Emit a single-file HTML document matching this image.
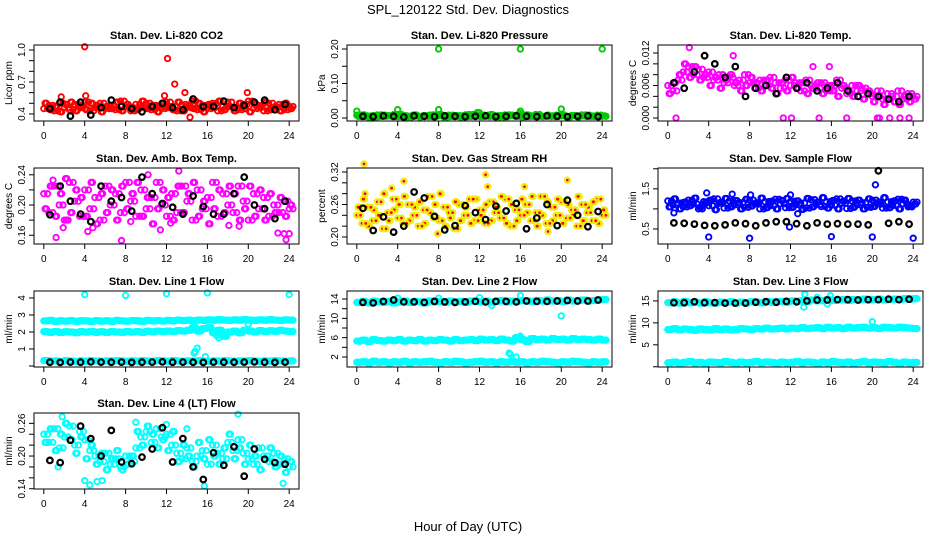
<!DOCTYPE html>
<html><head><meta charset="utf-8"><style>
body{margin:0;background:#fff;}
svg{display:block;font-family:"Liberation Sans",sans-serif;}
</style></head><body>
<svg id="chart" width="936" height="540" viewBox="0 0 936 540">
<rect width="936" height="540" fill="#fff"/>
<text x="468" y="14" text-anchor="middle" font-size="13">SPL_120122  Std. Dev. Diagnostics</text>
<text x="468" y="531" text-anchor="middle" font-size="13">Hour of Day (UTC)</text>
</svg>
<script>
// ---------- data ----------
const hourTicks = [0,4,8,12,16,20,24];
// CO2
const co2A = [0.45,0.48,0.43,0.50,0.46,0.44,0.49,0.47,0.51,0.43,0.46,0.50,0.45,0.48,0.44,0.52,0.47,0.43,0.49,0.46,0.50,0.44,0.48,0.45,0.51,0.47,0.43,0.49,0.46,0.52,0.44,0.48,0.45,0.50,0.43,0.47,0.51,0.46,0.44,0.49,0.52,0.45,0.48,0.43,0.50,0.46,0.49,0.44,0.47];
const co2B = [0.50,0.44,0.47,0.42,0.49,0.51,0.43,0.46,0.44,0.50,0.48,0.42,0.47,0.45,0.51,0.43,0.49,0.46,0.44,0.52,0.45,0.48,0.42,0.50,0.46,0.44,0.51,0.43,0.48,0.45,0.50,0.42,0.49,0.46,0.52,0.44,0.47,0.43,0.50,0.45,0.42,0.49,0.46,0.51,0.44,0.47,0.43,0.50,0.45];
const co2OutX = [4,12.1,12.8,13.8,19.9,14.3,1.7,4.1,11.8];
const co2OutY = [1.03,0.92,0.68,0.60,0.60,0.37,0.56,0.57,0.57];
const co2Black = [0.45,0.51,0.38,0.51,0.39,0.46,0.53,0.47,0.45,0.42,0.47,0.50,0.46,0.44,0.54,0.47,0.47,0.52,0.46,0.48,0.51,0.53,0.44,0.49];
// Pressure
const prA = [0.008,0.004,0.006,0.003,0.009,0.005,0.007,0.004,0.010,0.006,0.003,0.008,0.005,0.007,0.004,0.009,0.006,0.003,0.008,0.005,0.007,0.004,0.010,0.006,0.005,0.008,0.004,0.007,0.003,0.009,0.006,0.005,0.008,0.004,0.007,0.010,0.005,0.006,0.004,0.008,0.006,0.003,0.007,0.005,0.009,0.004,0.006,0.008,0.005];
const prB = [0.005,0.009,0.003,0.007,0.004,0.008,0.006,0.010,0.004,0.007,0.005,0.009,0.003,0.006,0.008,0.004,0.010,0.006,0.005,0.007,0.003,0.009,0.005,0.008,0.004,0.006,0.010,0.005,0.007,0.004,0.008,0.006,0.003,0.009,0.005,0.007,0.004,0.008,0.006,0.005,0.009,0.004,0.007,0.003,0.006,0.008,0.005,0.004,0.006];
const prOutX = [8,16,24,0,4,8,12,16,20,11.8,15.9];
const prOutY = [0.200,0.200,0.200,0.020,0.024,0.024,0.015,0.020,0.026,0.016,0.014];
const prBlack = [0.005,0.004,0.006,0.005,0.003,0.006,0.005,0.004,0.006,0.005,0.004,0.005,0.006,0.004,0.005,0.006,0.005,0.004,0.006,0.005,0.004,0.005,0.006,0.004];
// Li-820 temp
const tmA = [0.0060,0.0050,0.0070,0.0085,0.0095,0.0080,0.0090,0.0075,0.0085,0.0070,0.0080,0.0065,0.0075,0.0060,0.0070,0.0080,0.0065,0.0055,0.0070,0.0060,0.0075,0.0065,0.0055,0.0070,0.0060,0.0065,0.0050,0.0070,0.0060,0.0055,0.0065,0.0050,0.0060,0.0070,0.0055,0.0045,0.0060,0.0050,0.0055,0.0045,0.0040,0.0050,0.0035,0.0045,0.0040,0.0050,0.0035,0.0045,0.0040];
const tmB = [0.0045,0.0065,0.0080,0.0100,0.0075,0.0095,0.0070,0.0080,0.0060,0.0075,0.0055,0.0070,0.0080,0.0065,0.0050,0.0060,0.0075,0.0065,0.0050,0.0070,0.0055,0.0045,0.0065,0.0050,0.0075,0.0055,0.0065,0.0045,0.0055,0.0065,0.0045,0.0060,0.0050,0.0040,0.0060,0.0050,0.0040,0.0060,0.0035,0.0050,0.0030,0.0040,0.0025,0.0035,0.0030,0.0025,0.0040,0.0030,0.0035];
const tmOutX = [0.8,11.3,12.1,14.8,17.5,20.5,20.7,21.7,22.7,23.6,2.1,6.4,14.2,15.8];
const tmOutY = [0,0,0,0,0,0,0,0,0,0,0.0130,0.0115,0.0095,0.0095];
const tmBlack = [0.0065,0.0055,0.0085,0.0115,0.0100,0.0075,0.0095,0.0040,0.0055,0.0060,0.0045,0.0075,0.0055,0.0065,0.0050,0.0055,0.0065,0.0050,0.0040,0.0045,0.0040,0.0035,0.0030,0.0040];
// Amb box temp
const abA = [0.215,0.190,0.225,0.200,0.180,0.230,0.205,0.185,0.220,0.195,0.210,0.180,0.225,0.200,0.215,0.190,0.230,0.205,0.185,0.220,0.195,0.210,0.230,0.200,0.185,0.215,0.190,0.225,0.205,0.180,0.220,0.195,0.210,0.230,0.185,0.215,0.200,0.190,0.225,0.205,0.180,0.215,0.195,0.210,0.185,0.200,0.190,0.205,0.195];
const abB = [0.195,0.225,0.185,0.215,0.235,0.190,0.220,0.210,0.185,0.230,0.175,0.215,0.190,0.220,0.180,0.225,0.195,0.215,0.230,0.185,0.210,0.175,0.195,0.220,0.210,0.180,0.225,0.190,0.215,0.230,0.185,0.205,0.175,0.195,0.220,0.190,0.225,0.215,0.180,0.195,0.225,0.185,0.220,0.180,0.215,0.190,0.210,0.185,0.200];
const abOutX = [0.9,1.2,1.9,4.3,4.8,7.6,10.2,11.4,13.2,19.1,23.5,23.7,24,2.2,8.5,12.4,18.1,22.9];
const abOutY = [0.233,0.157,0.170,0.165,0.170,0.153,0.240,0.167,0.245,0.172,0.162,0.154,0.162,0.180,0.178,0.176,0.173,0.163];
const abBlack = [0.187,0.225,0.205,0.188,0.178,0.225,0.205,0.210,0.192,0.237,0.215,0.202,0.197,0.188,0.212,0.198,0.188,0.188,0.215,0.237,0.200,0.195,0.182,0.205];
// RH
const rhA = [0.240,0.225,0.255,0.230,0.265,0.215,0.245,0.270,0.235,0.225,0.260,0.240,0.220,0.250,0.275,0.235,0.230,0.255,0.245,0.215,0.260,0.240,0.270,0.230,0.250,0.225,0.265,0.245,0.235,0.270,0.220,0.250,0.240,0.260,0.230,0.245,0.275,0.225,0.255,0.240,0.265,0.235,0.250,0.220,0.260,0.245,0.230,0.270,0.240];
const rhB = [0.255,0.270,0.220,0.250,0.240,0.280,0.230,0.250,0.260,0.275,0.230,0.255,0.265,0.225,0.245,0.260,0.280,0.220,0.235,0.265,0.230,0.255,0.225,0.270,0.240,0.260,0.230,0.255,0.275,0.225,0.260,0.230,0.270,0.245,0.275,0.220,0.240,0.265,0.230,0.270,0.225,0.260,0.240,0.275,0.230,0.255,0.265,0.225,0.250];
const rhOutX = [0.7,4.6,12.6,16.4,20.6,0.8,3.4,12.8,7.9,18.7];
const rhOutY = [0.335,0.303,0.315,0.293,0.305,0.280,0.290,0.293,0.206,0.210];
const rhBlack = [0.253,0.212,0.237,0.209,0.220,0.283,0.272,0.238,0.213,0.221,0.258,0.245,0.232,0.257,0.248,0.262,0.215,0.235,0.260,0.221,0.268,0.240,0.219,0.247];
// Sample flow
const sfA = [1.20,1.10,1.15,1.05,1.22,1.12,1.00,1.18,1.08,1.25,1.14,1.02,1.20,1.10,1.16,1.04,1.22,1.12,1.00,1.18,1.08,1.24,1.13,1.03,1.19,1.10,1.15,1.02,1.23,1.11,1.06,1.18,1.09,1.25,1.14,1.01,1.20,1.10,1.16,1.04,1.22,1.12,1.02,1.18,1.08,1.24,1.13,1.05,1.17];
const sfB = [1.05,1.25,1.00,1.17,1.08,1.27,1.04,1.14,1.22,0.98,1.16,1.26,1.05,1.21,1.00,1.24,1.07,1.15,1.27,1.03,1.19,1.00,1.21,1.26,1.04,1.20,0.99,1.26,1.05,1.17,1.28,1.02,1.21,1.00,1.19,1.26,1.04,1.22,1.00,1.25,1.06,1.17,1.28,1.03,1.20,1.00,1.22,1.07,1.12];
const sfOutX = [4,8,16,20,24,3.8,20.3,6.3,8.1,12,0.6,11.9,12.7];
const sfOutY = [0.30,0.27,0.31,0.30,0.27,1.40,1.60,1.37,1.35,1.35,0.90,0.55,0.88];
const sfBlack = [0.65,0.64,0.62,0.59,0.58,0.60,0.65,0.63,0.58,0.65,0.68,0.68,0.63,0.58,0.65,0.62,0.63,0.62,0.62,0.60,1.95,0.64,0.68,0.62];
// Line 1 flow
const l1Top = [2.65,2.68,2.62,2.66,2.64,2.67,2.63,2.66,2.65,2.62,2.67,2.64,2.66,2.63,2.68,2.65,2.64,2.67,2.66,2.63,2.68,2.65,2.67,2.64,2.68,2.66,2.70,2.67,2.69,2.66,2.70,2.68,2.71,2.69,2.72,2.70,2.68,2.71,2.69,2.72,2.70,2.68,2.71,2.69,2.72,2.70,2.68,2.71,2.70];
const l1Mid = [2.02,1.98,2.03,1.97,2.01,2.00,1.96,2.02,1.99,2.03,1.98,2.01,1.97,2.02,2.00,1.98,2.03,1.99,2.02,1.98,2.04,2.01,2.05,2.02,2.06,2.03,2.08,2.05,2.10,2.25,2.05,2.20,2.25,1.95,2.10,1.75,2.00,2.05,1.95,2.10,2.05,2.00,2.08,2.03,2.07,2.04,2.10,2.05,2.02];
const l1Low = [0.32,0.28,0.30,0.26,0.31,0.29,0.27,0.30,0.28,0.31,0.29,0.27,0.30,0.28,0.31,0.29,0.27,0.30,0.28,0.31,0.29,0.27,0.32,0.30,0.28,0.31,0.29,0.27,0.30,0.28,0.31,0.29,0.27,0.30,0.28,0.31,0.29,0.27,0.30,0.28,0.31,0.29,0.27,0.30,0.28,0.31,0.29,0.27,0.30];
const l1OutX = [4,8,12,16,24,14.7,14.8,15.0,15.8,16.9,17.1,20];
const l1OutY = [4.2,4.15,4.25,4.3,4.2,0.75,0.85,1.05,0.55,1.80,1.65,2.45];
const l1Black = [0.22,0.21,0.23,0.22,0.24,0.23,0.22,0.23,0.21,0.22,0.23,0.24,0.22,0.23,0.22,0.21,0.23,0.22,0.22,0.23,0.24,0.22,0.21,0.23];
// Line 2 flow
const l2Top = [13.3,13.5,13.2,13.6,13.4,13.3,13.5,13.2,13.4,13.6,13.3,13.5,13.4,13.2,13.6,13.4,13.5,13.3,13.6,13.4,13.5,13.3,13.6,13.5,13.4,13.6,13.3,13.5,13.7,13.4,13.6,13.5,13.7,13.6,13.5,13.7,13.6,13.8,13.6,13.7,13.5,13.8,13.6,13.7,13.8,13.6,13.7,13.8,13.9];
const l2Mid = [5.3,5.5,5.2,5.6,5.4,5.3,5.5,5.4,5.6,5.3,5.5,5.4,5.6,5.3,5.5,5.4,5.6,5.5,5.3,5.6,5.4,5.5,5.6,5.4,5.7,5.5,5.6,5.4,5.7,5.5,5.3,6.0,5.6,5.2,5.8,5.6,5.7,5.5,5.8,5.6,5.7,5.5,5.8,5.6,5.7,5.6,5.5,5.7,5.5];
const l2Low = [0.9,1.0,0.8,1.1,0.9,1.0,0.8,1.0,0.9,1.1,0.8,1.0,0.9,1.0,1.1,0.9,0.8,1.0,0.9,1.1,1.0,0.8,0.9,1.0,1.1,0.9,1.0,0.8,1.0,0.9,1.1,0.9,1.0,0.8,1.0,0.9,1.1,1.0,0.9,0.8,1.0,0.9,1.1,1.0,0.9,0.8,1.0,0.9,1.0];
const l2OutX = [20,14.9,15.0,15.6,12,16,4,8,13.2,16.0];
const l2OutY = [10.5,2.8,2.6,2.0,14.3,14.7,14.2,14.2,12.7,6.3];
const l2Black = [13.3,13.2,13.5,13.8,13.4,13.4,13.3,13.5,13.4,13.3,13.4,13.5,13.4,13.5,13.5,13.4,13.6,13.5,13.5,13.6,13.7,13.6,13.6,13.8];
// Line 3 flow
const l3Top = [14.6,14.8,14.5,14.9,14.6,14.7,14.5,14.8,14.6,14.5,14.7,14.6,14.8,14.5,14.7,14.6,14.8,14.7,14.6,14.9,14.7,14.8,14.9,14.7,15.0,14.9,15.1,14.9,15.2,15.0,15.1,15.3,15.1,15.2,15.3,15.1,15.3,15.2,15.4,15.2,15.3,15.4,15.2,15.3,15.4,15.3,15.5,15.4,15.5];
const l3Mid = [8.5,8.7,8.4,8.6,8.5,8.3,8.6,8.5,8.4,8.7,8.5,8.6,8.4,8.5,8.7,8.6,8.5,8.7,8.6,8.8,8.6,8.7,8.8,8.6,8.8,8.7,8.9,8.7,8.8,8.9,8.7,9.0,8.8,8.9,8.7,9.0,8.8,8.9,9.0,8.8,8.9,8.7,9.0,8.9,8.8,9.0,8.9,8.8,8.7];
const l3Low = [0.9,1.1,0.8,1.0,1.2,0.9,1.0,0.8,1.1,1.0,0.9,1.2,1.0,0.8,1.1,0.9,1.0,1.2,0.9,1.1,1.0,0.8,1.1,0.9,1.0,1.2,0.9,1.1,1.0,0.8,1.1,0.9,1.2,1.0,0.9,1.1,0.8,1.0,1.2,0.9,1.1,1.0,0.9,1.2,1.0,0.8,1.1,0.9,1.0];
const l3OutX = [20,13.3,13.4,14.6,15.9,15.6];
const l3OutY = [10.3,13.6,16.5,15.8,16.2,14.3];
const l3Black = [14.6,14.6,14.8,14.6,14.6,14.5,14.5,14.5,14.7,14.8,14.7,14.9,14.8,15.0,15.2,15.2,15.3,15.3,15.2,15.3,15.3,15.4,15.3,15.4];
// Line 4 flow
const l4A = [0.240,0.225,0.250,0.215,0.235,0.255,0.220,0.245,0.230,0.210,0.200,0.190,0.205,0.185,0.195,0.180,0.200,0.190,0.215,0.235,0.245,0.225,0.250,0.235,0.240,0.220,0.205,0.195,0.215,0.190,0.200,0.210,0.185,0.220,0.205,0.195,0.225,0.210,0.230,0.205,0.195,0.185,0.215,0.200,0.190,0.205,0.185,0.195,0.180];
const l4B = [0.225,0.250,0.210,0.240,0.260,0.230,0.205,0.235,0.195,0.220,0.185,0.205,0.175,0.195,0.210,0.175,0.185,0.200,0.245,0.220,0.255,0.240,0.215,0.230,0.210,0.245,0.190,0.220,0.200,0.180,0.225,0.195,0.230,0.200,0.185,0.215,0.240,0.195,0.215,0.185,0.220,0.200,0.175,0.195,0.215,0.180,0.200,0.170,0.190];
const l4OutX = [1.8,19.0,4.5,5.2,5.7,15.7,23.4,4.0,9.0,12.0,14.0,1.4];
const l4OutY = [0.272,0.277,0.147,0.153,0.155,0.145,0.150,0.155,0.262,0.258,0.250,0.180];
const l4Black = [0.192,0.188,0.229,0.255,0.232,0.200,0.247,0.189,0.186,0.198,0.213,0.252,0.189,0.232,0.180,0.157,0.206,0.183,0.217,0.163,0.213,0.194,0.188,0.185];

// ---------- layout ----------
const svg = document.getElementById('chart');
const NS = 'http://www.w3.org/2000/svg';
const colLeft = [34, 347, 658], colW = 265;
const rowTop = [45, 168, 291, 413], rowH = 76;

function el(tag, attrs, parent) {
  const e = document.createElementNS(NS, tag);
  for (const k in attrs) e.setAttribute(k, attrs[k]);
  (parent || svg).appendChild(e);
  return e;
}

// dense series: each array drawn at several sub-offsets to emulate per-minute density
function dense(a, b, color, inner) {
  return [
    {y: a, t0: 0, dt: 0.5, color, inner}, {y: b, t0: 0.25, dt: 0.5, color, inner},
    {y: b, t0: 0.125, dt: 0.5, color, inner}, {y: a, t0: 0.375, dt: 0.5, color, inner}
  ];
}

function panel(key, col, row, title, ylab, ylim, yticks, ylabels, series) {
  const L = colLeft[col], T = rowTop[row], W = colW, H = rowH;
  const g = el('g', {});
  
  
  const xs = v => L + W * (v + 0.96) / 25.92;
  const ys = v => T + H - H * (v - ylim[0]) / (ylim[1] - ylim[0]);
  const pts = el('g', {}, g);
  
  
  function dot(x, y, color, inner) {
    if (x < -0.5 || x > 24.5) return;
    const blk = color === '#000';
    const c = el('circle', {cx: xs(x).toFixed(1), cy: ys(y).toFixed(1), r: blk ? 2.8 : 2.7, fill: 'none', stroke: color, 'stroke-width': blk ? 2.2 : 1.9}, pts);
    
    
    if (inner) {
      const d = el('circle', {cx: xs(x).toFixed(1), cy: ys(y).toFixed(1), r: 1.4, fill: inner}, pts);
      
      
    }
  }
  series.forEach(s => {
    if (s.x) s.x.forEach((x, i) => dot(x, s.y[i], s.color, s.inner));
    else s.y.forEach((v, i) => dot(s.t0 + i * s.dt, v, s.color, s.inner));
  });
  const box = el('rect', {x: L, y: T, width: W, height: H, fill: 'none', stroke: '#000', 'stroke-width': 1}, g);
  
  
  const t = el('text', {x: L + W / 2, y: T - 6, 'text-anchor': 'middle', 'font-size': 11, 'font-weight': 'bold'}, g);
  t.textContent = title;
  
  
  hourTicks.forEach(h => {
    el('line', {x1: xs(h), x2: xs(h), y1: T + H, y2: T + H + 5, stroke: '#000'}, g);
    const tx = el('text', {x: xs(h), y: T + H + 18, 'text-anchor': 'middle', 'font-size': 10}, g);
    tx.textContent = h;
    
    
  });
  yticks.forEach((v, i) => {
    const y = ys(v);
    el('line', {x1: L - 5, x2: L, y1: y, y2: y, stroke: '#000'}, g);
    if (ylabels[i] !== '') {
      const tx = el('text', {x: L - 9, y: y, 'text-anchor': 'middle', 'font-size': 10, transform: `rotate(-90 ${L - 9} ${y})`}, g);
      tx.textContent = ylabels[i];
      
      
    }
  });
  const yl = el('text', {x: L - 22, y: T + H / 2, 'text-anchor': 'middle', 'font-size': 10, transform: `rotate(-90 ${L - 22} ${T + H / 2})`}, g);
  yl.textContent = ylab;
  
  
}

const K = '#000';
panel('co2', 0, 0, 'Stan. Dev. Li-820 CO2', 'Licor ppm', [0.334, 1.047],
  [0.4,0.5,0.6,0.7,0.8,0.9,1.0], ['0.4','','','0.7','','','1.0'],
  [...dense(co2A, co2B, '#f00'), {x: co2OutX, y: co2OutY, color: '#f00'}, {y: co2Black, t0: 0.6, dt: 1, color: K}]);
panel('pressure', 1, 0, 'Stan. Dev. Li-820 Pressure', 'kPa', [-0.0087, 0.2116],
  [0,0.05,0.10,0.15,0.20], ['0.00','','0.10','','0.20'],
  [...dense(prA, prB, '#0c0'), {x: prOutX, y: prOutY, color: '#0c0'}, {y: prBlack, t0: 0.6, dt: 1, color: K}]);
panel('licor-temp', 2, 0, 'Stan. Dev. Li-820 Temp.', 'degrees C', [-0.00055, 0.01348],
  [0,0.002,0.004,0.006,0.008,0.010,0.012], ['0.000','','','0.006','','','0.012'],
  [...dense(tmA, tmB, '#f0f'), {x: tmOutX, y: tmOutY, color: '#f0f'}, {y: tmBlack, t0: 0.6, dt: 1, color: K}]);
panel('amb-temp', 0, 1, 'Stan. Dev. Amb. Box Temp.', 'degrees C', [0.1484, 0.249],
  [0.16,0.18,0.20,0.22,0.24], ['0.16','','0.20','','0.24'],
  [...dense(abA, abB, '#f0f'), {x: abOutX, y: abOutY, color: '#f0f'}, {y: abBlack, t0: 0.6, dt: 1, color: K}]);
panel('rh', 1, 1, 'Stan. Dev. Gas Stream RH', 'percent', [0.187, 0.3274],
  [0.20,0.22,0.24,0.26,0.28,0.30,0.32], ['0.20','','','0.26','','','0.32'],
  [...dense(rhA, rhB, '#ee0', '#f00'), {x: rhOutX, y: rhOutY, color: '#ee0', inner: '#f00'}, {y: rhBlack, t0: 0.6, dt: 1, color: K}]);
panel('sample-flow', 2, 1, 'Stan. Dev. Sample Flow', 'ml/min', [0.125, 2.02],
  [0.5,1.0,1.5,2.0], ['0.5','','1.5',''],
  [...dense(sfA, sfB, '#00f'), {x: sfOutX, y: sfOutY, color: '#00f'}, {y: sfBlack, t0: 0.6, dt: 1, color: K}]);
panel('line1', 0, 2, 'Stan. Dev. Line 1 Flow', 'ml/min', [-0.06, 4.41],
  [0,1,2,3,4], ['','1','2','3','4'],
  [...dense(l1Top, l1Top, '#0ff'), ...dense(l1Mid, l1Mid, '#0ff'), ...dense(l1Low, l1Low, '#0ff'),
   {x: l1OutX, y: l1OutY, color: '#0ff'}, {y: l1Black, t0: 0.6, dt: 1, color: K}]);
panel('line2', 1, 2, 'Stan. Dev. Line 2 Flow', 'ml/min', [-0.07, 15.66],
  [2,4,6,8,10,12,14], ['2','','6','','10','','14'],
  [...dense(l2Top, l2Top, '#0ff'), ...dense(l2Mid, l2Mid, '#0ff'), ...dense(l2Low, l2Low, '#0ff'),
   {x: l2OutX, y: l2OutY, color: '#0ff'}, {y: l2Black, t0: 0.6, dt: 1, color: K}]);
panel('line3', 2, 2, 'Stan. Dev. Line 3 Flow', 'ml/min', [-0.05, 17.26],
  [0,5,10,15], ['','5','10','15'],
  [...dense(l3Top, l3Top, '#0ff'), ...dense(l3Mid, l3Mid, '#0ff'), ...dense(l3Low, l3Low, '#0ff'),
   {x: l3OutX, y: l3OutY, color: '#0ff'}, {y: l3Black, t0: 0.6, dt: 1, color: K}]);
panel('line4', 0, 3, 'Stan. Dev. Line 4 (LT) Flow', 'ml/min', [0.1395, 0.279],
  [0.14,0.16,0.18,0.20,0.22,0.24,0.26], ['0.14','','','0.20','','','0.26'],
  [...dense(l4A, l4B, '#0ff'), {x: l4OutX, y: l4OutY, color: '#0ff'}, {y: l4Black, t0: 0.6, dt: 1, color: K}]);
</script>
</body></html>
